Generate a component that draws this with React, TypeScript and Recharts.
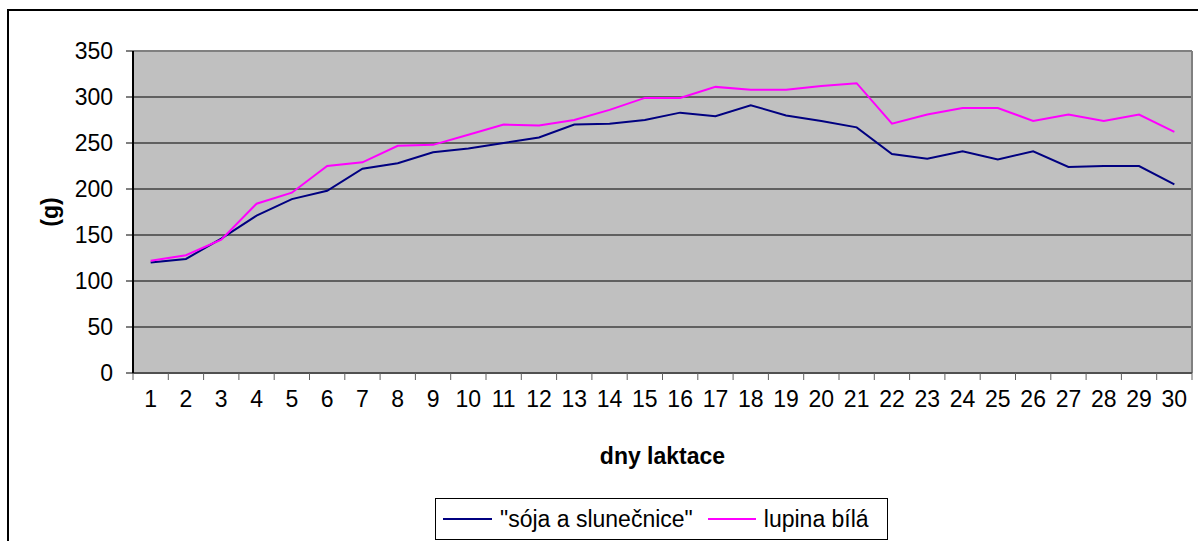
import React from 'react';
import { LineChart, Line, XAxis, YAxis, CartesianGrid, Legend, ReferenceLine } from 'recharts';

const days = [1, 2, 3, 4, 5, 6, 7, 8, 9, 10, 11, 12, 13, 14, 15, 16, 17, 18, 19, 20, 21, 22, 23, 24, 25, 26, 27, 28, 29, 30];
const soja = [120, 124, 146, 171, 189, 198, 222, 228, 240, 244, 250, 256, 270, 271, 275, 283, 279, 291, 280, 274, 267, 238, 233, 241, 232, 241, 224, 225, 225, 205];
const lupina = [122, 128, 145, 184, 196, 225, 229, 247, 248, 259, 270, 269, 275, 286, 299, 299, 311, 308, 308, 312, 315, 271, 281, 288, 288, 274, 281, 274, 281, 262];
const yTicks = [0, 50, 100, 150, 200, 250, 300, 350];
const boundaryTicks = [0.5, 1.5, 2.5, 3.5, 4.5, 5.5, 6.5, 7.5, 8.5, 9.5, 10.5, 11.5, 12.5, 13.5, 14.5, 15.5, 16.5, 17.5, 18.5, 19.5, 20.5, 21.5, 22.5, 23.5, 24.5, 25.5, 26.5, 27.5, 28.5, 29.5, 30.5];
const seriesNames = ['"sója a slunečnice"', 'lupina bílá'];
const seriesColors = ['#000080', '#FF00FF'];
const xTitle = 'dny laktace';
const yTitle = '(g)';

const data = days.map((d, i) => ({ day: d, soja: soja[i], lupina: lupina[i] }));

const FONT = '"Liberation Sans", Arial, sans-serif';

const LegendBox = () => (
  <div
    style={{
      boxSizing: 'border-box',
      width: 453,
      height: 42,
      border: '1px solid #000',
      background: '#fff',
      display: 'flex',
      alignItems: 'center',
      paddingLeft: 7,
      fontFamily: FONT,
      fontSize: 23,
      color: '#000',
      whiteSpace: 'nowrap',
    }}
  >
    <span style={{ display: 'inline-block', width: 49, height: 2, background: seriesColors[0], marginRight: 8 }} />
    <span style={{ marginRight: 15 }}>{seriesNames[0]}</span>
    <span style={{ display: 'inline-block', width: 48, height: 2, background: seriesColors[1], marginRight: 8 }} />
    <span>{seriesNames[1]}</span>
  </div>
);

const XTitle = (props: any) => {
  const vb = props.viewBox || {};
  return (
    <text
      x={vb.x + vb.width / 2}
      y={vb.y + 83}
      textAnchor="middle"
      fontFamily={FONT}
      fontSize={23}
      fontWeight="bold"
      fill="#000"
    >
      {xTitle}
    </text>
  );
};

const YTitle = (props: any) => {
  const vb = props.viewBox || {};
  const cx = vb.x + 50;
  const cy = vb.y + vb.height / 2;
  return (
    <text
      x={cx}
      y={cy}
      transform={`rotate(-90, ${cx}, ${cy})`}
      textAnchor="middle"
      dominantBaseline="central"
      fontFamily={FONT}
      fontSize={23}
      fontWeight="bold"
      fill="#000"
    >
      {yTitle}
    </text>
  );
};

export default function App() {
  return (
    <div style={{ position: 'fixed', left: 0, top: 0, width: 1198, height: 541, overflow: 'hidden', background: '#fff' }}>
      <div
        style={{
          position: 'absolute',
          left: 7,
          top: 9,
          width: 1400,
          height: 800,
          border: '2px solid #000',
          boxSizing: 'border-box',
        }}
      />
      <div style={{ position: 'absolute', left: 0, top: 0 }}>
        <LineChart
          width={1198}
          height={541}
          data={data}
          margin={{ top: 51, right: 6, left: 0, bottom: 68 }}
          style={{ fontFamily: FONT }}
        >
          <CartesianGrid
            fill="#C0C0C0"
            fillOpacity={1}
            vertical={false}
            horizontal={true}
            stroke="#000"
            strokeOpacity={1}
            strokeWidth={1}
            yAxisId="y"
            xAxisId="a_marks"
          />
          <XAxis
            xAxisId="a_marks"
            type="number"
            dataKey="day"
            domain={[0.5, 30.5]}
            allowDataOverflow
            ticks={boundaryTicks}
            interval={0}
            tickFormatter={() => ''}
            height={8}
            tickSize={7}
            tickMargin={0}
            tickLine={{ stroke: '#606060', strokeWidth: 1 }}
            axisLine={{ stroke: '#505050', strokeWidth: 2 }}
          />
          <XAxis
            xAxisId="b_labels"
            type="number"
            dataKey="day"
            domain={[0.5, 30.5]}
            allowDataOverflow
            ticks={days}
            interval={0}
            height={92}
            tickSize={0}
            tickMargin={10}
            tickLine={false}
            axisLine={false}
            tick={{ fill: '#000', fontSize: 23, fontFamily: FONT }}
            label={<XTitle />}
          />
          <YAxis
            yAxisId="y"
            type="number"
            domain={[0, 350]}
            ticks={yTicks}
            interval={0}
            width={133}
            tickSize={7}
            tickMargin={13}
            tickLine={{ stroke: '#000', strokeWidth: 1 }}
            axisLine={{ stroke: '#000', strokeWidth: 2 }}
            tick={{ fill: '#000', fontSize: 23, fontFamily: FONT }}
            label={<YTitle />}
          />
          <ReferenceLine yAxisId="y" xAxisId="a_marks" y={350} stroke="#808080" strokeWidth={2} />
          <ReferenceLine yAxisId="y" xAxisId="a_marks" x={30.5} stroke="#808080" strokeWidth={2} />
          <Line
            yAxisId="y"
            xAxisId="a_marks"
            type="linear"
            dataKey="soja"
            name={seriesNames[0]}
            stroke={seriesColors[0]}
            strokeWidth={2}
            dot={false}
            activeDot={false}
            isAnimationActive={false}
          />
          <Line
            yAxisId="y"
            xAxisId="a_marks"
            type="linear"
            dataKey="lupina"
            name={seriesNames[1]}
            stroke={seriesColors[1]}
            strokeWidth={2}
            dot={false}
            activeDot={false}
            isAnimationActive={false}
          />
          <Legend
            layout="horizontal"
            verticalAlign="middle"
            align="center"
            content={<LegendBox />}
            wrapperStyle={{ left: 435, top: 498, width: 453, height: 42 }}
          />
        </LineChart>
      </div>
    </div>
  );
}
